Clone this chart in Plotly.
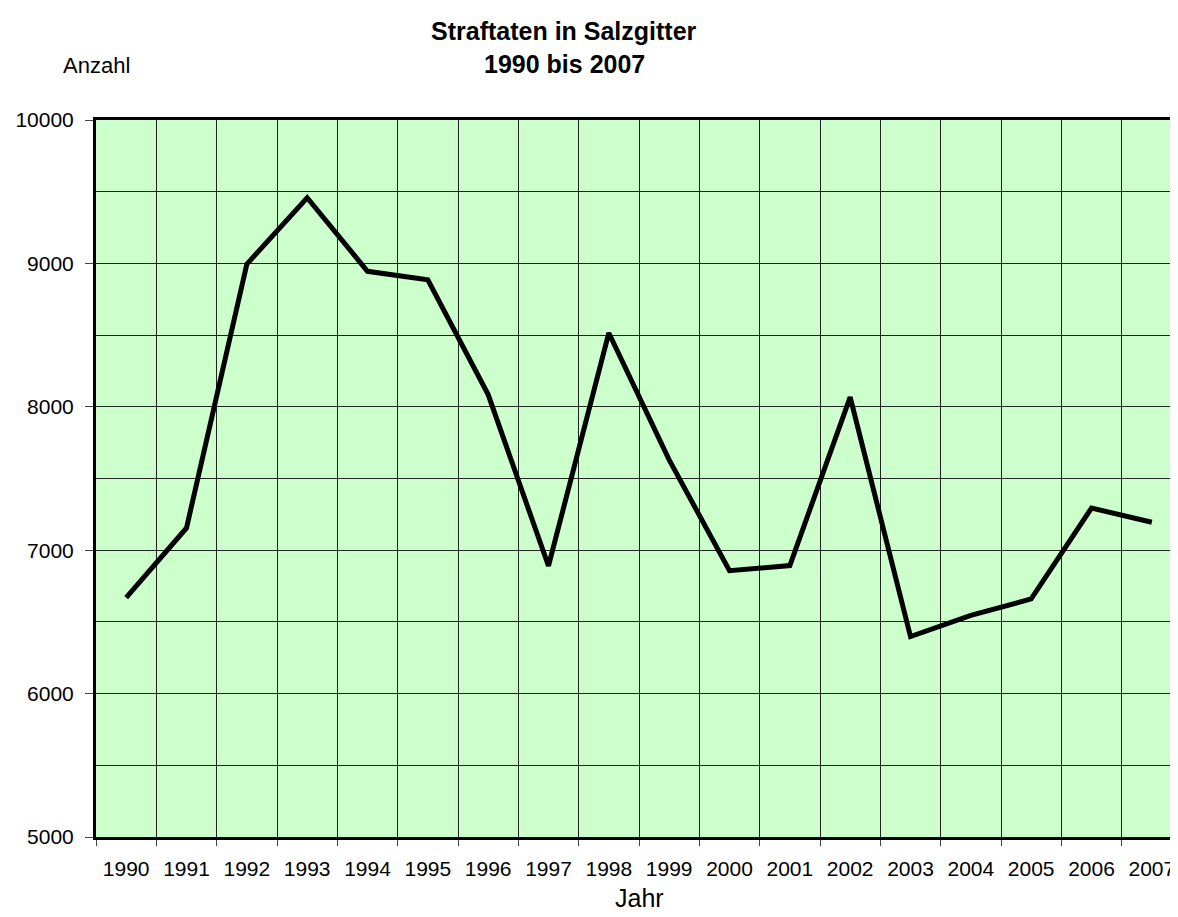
import plotly.graph_objects as go

years = ["1990", "1991", "1992", "1993", "1994", "1995", "1996", "1997", "1998",
         "1999", "2000", "2001", "2002", "2003", "2004", "2005", "2006", "2007"]
straftaten = [6670, 7155, 8995, 9458, 8945, 8885, 8085, 6890, 8515,
              7630, 6857, 6893, 8068, 6398, 6545, 6660, 7294, 7195]

y_ticks = [5000, 6000, 7000, 8000, 9000, 10000]
y_ticktext = ["5000", "6000", "7000", "8000", "9000", "10000"]

title_line1 = "Straftaten in Salzgitter"
title_line2 = "1990 bis 2007"
y_label = "Anzahl"
x_label = "Jahr"

W, H = 1178, 917
L, R, T, B = 88, 4, 112, 88

fig = go.Figure()
fig.add_trace(go.Scatter(
    x=years, y=straftaten, mode="lines",
    line=dict(color="black", width=5),
    showlegend=False, hoverinfo="skip",
))

font_family = "Liberation Sans, Arial, sans-serif"
grid_col = "#222222"

fig.update_layout(
    width=W, height=H,
    margin=dict(l=L, r=R, t=T, b=B, pad=0),
    paper_bgcolor="white",
    plot_bgcolor="#CCFFCC",
    font=dict(family=font_family, size=21, color="black"),
    xaxis=dict(
        type="category",
        range=[-0.5, len(years) - 0.5],
        tickson="boundaries",
        showgrid=True, gridcolor=grid_col, gridwidth=1,
        ticks="outside", ticklen=6, tickcolor="#444444", tickwidth=1,
        ticklabelstandoff=11,
        showline=True, linecolor="black", linewidth=3, mirror=True,
        tickfont=dict(size=21),
        automargin=False,
        fixedrange=True,
    ),
    yaxis=dict(
        range=[5000, 10000],
        tickvals=y_ticks, ticktext=y_ticktext,
        showgrid=True, gridcolor=grid_col, gridwidth=1,
        minor=dict(dtick=500, tick0=5000, showgrid=True, gridcolor=grid_col, gridwidth=1, ticks=""),
        ticks="outside", ticklen=8, tickcolor="#444444", tickwidth=1,
        ticklabelstandoff=7,
        showline=True, linecolor="black", linewidth=3, mirror=True,
        tickfont=dict(size=21),
        zeroline=False,
        automargin=False,
        fixedrange=True,
    ),
)

def px_ann(text, x, y, size, bold=False):
    pw = W - L - R
    ph = H - T - B
    return dict(
        text=("<b>" + text + "</b>") if bold else text,
        x=(x - L) / pw, y=1 - (y - T) / ph,
        xref="paper", yref="paper", xanchor="center", yanchor="middle",
        showarrow=False, font=dict(size=size, family=font_family, color="black"),
    )

fig.update_layout(annotations=[
    px_ann(title_line1, 556, 23, 25, bold=True),
    px_ann(title_line2, 556, 56, 25, bold=True),
    px_ann(y_label, 88, 57, 22),
    px_ann(x_label, 631, 890, 25),
])

fig.write_html("out.html")
